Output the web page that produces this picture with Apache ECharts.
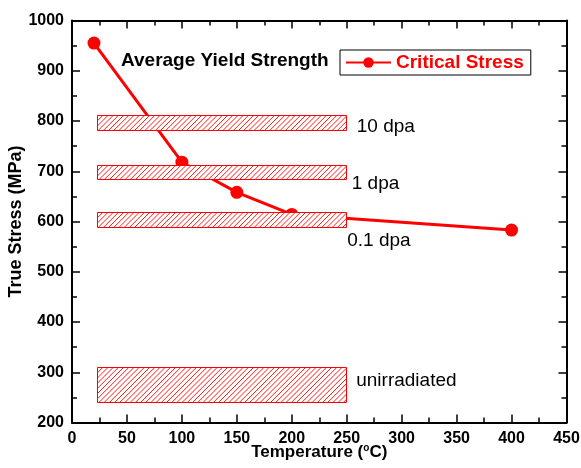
<!DOCTYPE html>
<html>
<head>
<meta charset="utf-8">
<script src="https://cdn.jsdelivr.net/npm/echarts@6/dist/echarts.min.js"></script>
<style>html,body{margin:0;padding:0;background:#fff;}#c{width:581px;height:468px;}</style>
</head>
<body>
<div id="c"></div>
<script>
// ---- data ----
var temperatures = [20, 100, 150, 200, 400];
var criticalStress = [955, 718, 658, 614, 583];
var bandNames = ['10 dpa', '1 dpa', '0.1 dpa', 'unirradiated'];
var bandXStart = [23, 23, 23, 23];
var bandXEnd = [250, 250, 250, 250];
var bandLow = [782, 684, 589, 240];
var bandHigh = [812, 712, 618, 310];
var xTicks = {min: 0, max: 450, interval: 50};
var yTicks = {min: 200, max: 1000, interval: 100};

// ---- styles ----
var FONT = '"Liberation Sans", Arial, Helvetica, sans-serif';
var RED = '#ff0000';
var labelOffsets = [[10, 4], [5, 12], [0.5, 21.5], [9.5, -4]];
var HATCH_GAP = 5.2;

var bandData = bandNames.map(function (n, i) {
  return [bandXStart[i], bandXEnd[i], bandLow[i], bandHigh[i], i];
});

var chart = echarts.init(document.getElementById('c'), null, {renderer: 'canvas'});

function axisCommon() {
  return {
    axisLine: {show: true, onZero: false, lineStyle: {color: '#000', width: 2}},
    axisTick: {show: true, inside: true, length: 8, lineStyle: {color: '#000', width: 1.5}},
    minorTick: {show: true, splitNumber: 2, length: 5, lineStyle: {color: '#000', width: 1.5}},
    splitLine: {show: false}
  };
}

var option = {
  animation: false,
  backgroundColor: '#fff',
  grid: {left: 72, right: 14.5, top: 20.5, bottom: 45.5, containLabel: false, outerBoundsMode: 'none'},
  title: {
    text: 'Average Yield Strength',
    left: 121, top: 51, padding: 0,
    textStyle: {fontFamily: FONT, fontWeight: 'bold', fontSize: 19, color: '#000'}
  },
  legend: {
    data: ['Critical Stress'],
    left: 340, top: 50,
    orient: 'horizontal',
    borderColor: '#000', borderWidth: 1, borderRadius: 0,
    padding: [3, 7, 3, 5],
    itemWidth: 45, itemHeight: 13, itemGap: 4,
    textStyle: {fontFamily: FONT, fontWeight: 'bold', fontSize: 19, color: RED}
  },
  xAxis: [
    Object.assign({
      type: 'value', position: 'bottom',
      min: xTicks.min, max: xTicks.max, interval: xTicks.interval,
      name: '{t|Temperature (}{s|o}{t|C)}',
      nameLocation: 'middle', nameGap: 21, nameMoveOverlap: false,
      nameTextStyle: {
        verticalAlign: 'top',
        rich: {
          t: {fontFamily: FONT, fontWeight: 'bold', fontSize: 17, color: '#000'},
          s: {fontFamily: FONT, fontWeight: 'bold', fontSize: 10, color: '#000', verticalAlign: 'top', padding: [0, 0, 8, 0]}
        }
      },
      axisLabel: {fontFamily: FONT, fontWeight: 'bold', fontSize: 16, color: '#000', margin: 8}
    }, axisCommon()),
    Object.assign({
      type: 'value', position: 'top',
      min: xTicks.min, max: xTicks.max, interval: xTicks.interval,
      axisLabel: {show: false}
    }, axisCommon())
  ],
  yAxis: [
    Object.assign({
      type: 'value', position: 'left',
      min: yTicks.min, max: yTicks.max, interval: yTicks.interval,
      name: 'True Stress (MPa)',
      nameLocation: 'middle', nameGap: 47, nameMoveOverlap: false,
      nameTextStyle: {fontFamily: FONT, fontWeight: 'bold', fontSize: 18, color: '#000'},
      axisLabel: {fontFamily: FONT, fontWeight: 'bold', fontSize: 16, color: '#000', margin: 8,
                  formatter: function (v) { return String(v); }}
    }, axisCommon()),
    Object.assign({
      type: 'value', position: 'right',
      min: yTicks.min, max: yTicks.max, interval: yTicks.interval,
      axisLabel: {show: false}
    }, axisCommon())
  ],
  series: [
    {
      name: 'Critical Stress',
      type: 'line',
      data: temperatures.map(function (t, i) { return [t, criticalStress[i]]; }),
      symbol: 'circle', symbolSize: 13,
      lineStyle: {color: RED, width: 3},
      itemStyle: {color: RED},
      z: 2
    },
    {
      type: 'custom',
      name: 'bands',
      data: bandData,
      z: 5,
      renderItem: function (params, api) {
        var p0 = api.coord([api.value(0), api.value(3)]);
        var p1 = api.coord([api.value(1), api.value(2)]);
        var idx = api.value(4);
        var off = labelOffsets[idx];
        var x0 = Math.round(p0[0]) + 0.5, y0 = Math.round(p0[1]) + 0.5;
        var w = Math.round(p1[0] - p0[0]), h = Math.round(p1[1] - p0[1]);
        var hatch = [];
        for (var c = x0 - h; c < x0 + w; c += HATCH_GAP) {
          hatch.push({
            type: 'line',
            shape: {x1: c, y1: y0 + h, x2: c + h, y2: y0},
            style: {stroke: RED, lineWidth: 0.9}
          });
        }
        var hatchGroup = {
          type: 'group',
          children: hatch,
          clipPath: {type: 'rect', shape: {x: x0, y: y0, width: w, height: h}}
        };
        var bg = {
          type: 'rect',
          shape: {x: x0, y: y0, width: w, height: h},
          style: {fill: '#fff'}
        };
        var border = {
          type: 'rect',
          shape: {x: x0, y: y0, width: w, height: h},
          style: {fill: null, stroke: RED, lineWidth: 1}
        };
        var txt = {
          type: 'text',
          x: p1[0] + off[0],
          y: (p0[1] + p1[1]) / 2 + off[1],
          style: {text: bandNames[idx], fill: '#000', font: '19px ' + FONT,
                  textAlign: 'left', textVerticalAlign: 'middle'}
        };
        return {type: 'group', children: [bg, hatchGroup, border, txt]};
      }
    }
  ]
};
chart.setOption(option);
</script>
</body>
</html>
